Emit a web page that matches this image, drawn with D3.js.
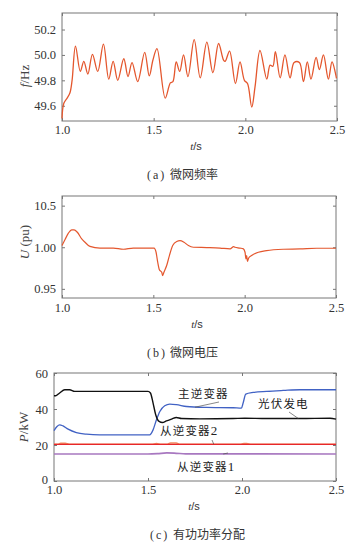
<!DOCTYPE html>
<html><head><meta charset="utf-8">
<script src="https://cdn.jsdelivr.net/npm/d3@7/dist/d3.min.js"></script>
<style>
html,body{margin:0;padding:0;background:#fff;}
svg{display:block;}
</style></head>
<body>
<svg id="chart" width="358" height="543"></svg>
<script>
// ---------- DATA ----------
const xTicks = [1.0, 1.5, 2.0, 2.5];
const xTickLabels = ["1.0", "1.5", "2.0", "2.5"];

// (a) frequency
const freqT = [1.0,1.01,1.028,1.043,1.055,1.0735,1.10,1.119,1.141,1.166,1.195,1.226,1.255,1.279,1.304,1.337,1.36,1.382,1.413,1.451,1.476,1.496,1.518,1.563,1.591,1.605,1.623,1.642,1.663,1.687,1.721,1.754,1.79,1.823,1.854,1.881,1.890,1.914,1.946,1.971,1.995,2.012,2.035,2.053,2.080,2.117,2.135,2.15,2.164,2.19,2.216,2.244,2.266,2.295,2.317,2.338,2.358,2.386,2.404,2.426,2.453,2.473,2.497];
const freqF = [49.50,49.62,49.66,49.70,49.80,50.07,49.87,49.95,49.85,50.005,49.87,50.085,49.81,49.95,49.80,49.97,49.83,49.94,49.79,50.02,49.835,49.96,50.05,49.66,49.78,49.79,49.945,49.87,50.0,49.83,50.12,49.82,50.10,49.86,50.09,49.96,49.95,50.03,49.775,49.945,49.80,49.775,49.59,49.75,50.035,49.81,49.92,49.91,50.025,49.82,50.0,49.82,49.94,49.94,49.79,49.945,49.81,49.98,49.885,50.0,49.81,49.945,49.815];
const freqTicks = [49.6, 49.8, 50.0, 50.2];
const freqTickLabels = ["49.6", "49.8", "50.0", "50.2"];

// (b) voltage
const voltT = [1.0,1.016,1.035,1.053,1.066,1.084,1.108,1.126,1.153,1.208,1.281,1.336,1.39,1.464,1.504,1.515,1.524,1.533,1.546,1.551,1.558,1.573,1.588,1.606,1.628,1.646,1.668,1.692,1.719,1.792,1.865,1.92,1.94,1.947,1.974,1.993,2.002,2.007,2.011,2.015,2.022,2.038,2.075,2.12,2.212,2.303,2.394,2.5];
const voltU = [1.002,1.009,1.017,1.021,1.021,1.018,1.010,1.006,1.001,0.999,0.999,0.9976,0.999,0.999,0.999,0.994,0.982,0.973,0.970,0.966,0.970,0.978,0.990,1.002,1.007,1.008,1.006,1.002,1.0,0.9996,0.999,0.998,1.0008,1.0,0.999,0.998,0.994,0.986,0.990,0.983,0.987,0.990,0.994,0.996,0.9976,0.998,0.9988,0.9988];
const voltTicks = [0.95, 1.00, 1.05];
const voltTickLabels = ["0.95", "1.00", "10.5"];

// (c) active power
const pvT = [1.0,1.01,1.03,1.057,1.083,1.11,1.172,1.332,1.5,1.513,1.527,1.541,1.559,1.577,1.598,1.625,1.651,1.678,1.776,1.953,2.015,2.13,2.308,2.468,2.5];
const pvP = [47.4,47.4,48.9,50.7,50.7,49.8,49.8,49.8,49.8,48.9,43.3,36.8,33.1,32.5,33.4,34.4,35.3,34.7,34.5,34.7,34.9,34.7,34.7,34.9,34.4];
const masterT = [1.0,1.016,1.03,1.048,1.075,1.119,1.172,1.243,1.421,1.509,1.527,1.545,1.563,1.589,1.616,1.651,1.705,1.811,1.953,1.997,2.006,2.02,2.06,2.131,2.219,2.308,2.397,2.5];
const masterP = [28.0,30.3,31.2,30.6,28.8,26.9,26.0,25.6,25.6,25.6,28.4,34.0,38.6,41.8,42.7,42.4,41.4,40.9,40.7,40.5,43.3,48.3,49.2,49.8,50.3,50.7,50.7,50.7];
const slave2T = [1.0,1.02,1.035,1.06,1.08,1.5,1.52,1.545,1.57,1.6,1.62,1.65,1.67,1.99,2.01,2.025,2.05,2.5];
const slave2P = [20.4,20.4,21.0,21.0,20.4,20.4,20.4,20.9,20.4,20.4,21.1,21.1,20.4,20.4,20.9,20.9,20.4,20.4];
const slave2RefT = [1.0, 2.5];
const slave2RefP = [20.4, 20.4];
const slave1T = [1.0,1.5,1.55,1.6,1.65,1.7,2.5];
const slave1P = [15.0,15.0,15.2,15.6,15.4,15.1,15.0];
const powTicks = [0, 20, 40, 60];
const powTickLabels = ["0", "20", "40", "60"];

const labelNames = ["主逆变器", "光伏发电", "从逆变器2", "从逆变器1"];

// ---------- DRAW ----------
const svg = d3.select("#chart");
const serif = "'Liberation Serif','Times New Roman',serif";
const cjk = "'Noto Sans CJK SC',sans-serif";

function panel(cfg) {
  const x = d3.scaleLinear().domain([1.0, 2.5]).range([cfg.left, cfg.right]);
  const y = d3.scaleLinear().domain(cfg.yDomain).range([cfg.bottom, cfg.top]);
  const g = svg.append("g");

  const ab = g.append("g").attr("transform", `translate(0,${cfg.bottom})`)
    .call(d3.axisBottom(x).tickValues(xTicks).tickFormat((d,i)=>xTickLabels[i]).tickSizeInner(-3).tickSizeOuter(0).tickPadding(cfg.xPad));
  const at = g.append("g").attr("transform", `translate(0,${cfg.top})`)
    .call(d3.axisTop(x).tickValues(xTicks).tickFormat("").tickSizeInner(-3).tickSizeOuter(0));
  const al = g.append("g").attr("transform", `translate(${cfg.left},0)`)
    .call(d3.axisLeft(y).tickValues(cfg.yTicks).tickFormat((d,i)=>cfg.yTickLabels[i]).tickSizeInner(-3).tickSizeOuter(0).tickPadding(cfg.yPad));
  const ar = g.append("g").attr("transform", `translate(${cfg.right},0)`)
    .call(d3.axisRight(y).tickValues(cfg.yTicks).tickFormat("").tickSizeInner(-3).tickSizeOuter(0));
  [ab, at, al, ar].forEach(a => {
    a.select(".domain").remove();
    a.selectAll(".tick line").attr("stroke", "#777").attr("stroke-width", 1);
    a.selectAll("text").attr("font-family", serif).attr("font-size", 12.5).attr("fill", "#333");
  });
  if (cfg.firstYLabelDy) {
    al.selectAll(".tick text").filter((d, i) => i === 0).attr("dy", cfg.firstYLabelDy);
  }

  g.append("rect").attr("x", cfg.left).attr("y", cfg.top)
    .attr("width", cfg.right - cfg.left).attr("height", cfg.bottom - cfg.top)
    .attr("fill", "none").attr("stroke", "#777").attr("stroke-width", 1);

  cfg.series.forEach(s => {
    const pts = s.t.map((t, i) => [t, s.v[i]]);
    g.append("path").datum(pts)
      .attr("fill", "none").attr("stroke", s.color).attr("stroke-width", s.width || 1.3)
      .attr("stroke-linejoin", "round")
      .attr("d", d3.line().x(d => x(d[0])).y(d => y(d[1])).curve(s.curve || d3.curveMonotoneX));
  });

  const tt = g.append("text").attr("x", cfg.tsX).attr("y", cfg.tsY)
    .attr("text-anchor", "middle").attr("font-family", serif).attr("font-size", 11).attr("fill", "#333");
  tt.append("tspan").attr("font-style", "italic").text("t");
  tt.append("tspan").attr("font-family", "'Liberation Sans',Arial,sans-serif").text("/s");

  const yt = g.append("text").attr("transform", `translate(${cfg.ytX},${cfg.ytY}) rotate(-90)`)
    .attr("text-anchor", "middle").attr("font-family", serif).attr("font-size", 13).attr("fill", "#444");
  yt.append("tspan").attr("font-style", "italic").text(cfg.ytItalic);
  yt.append("tspan").text(cfg.ytRest);

  const cap = g.append("text").attr("y", cfg.capY).attr("fill", "#333").attr("font-size", 12);
  cap.append("tspan").attr("x", cfg.capX).attr("font-family", serif).attr("letter-spacing", 2).text(cfg.capTag);
  cap.append("tspan").attr("x", cfg.capX + 23).attr("font-family", cjk).text(cfg.capText);

  return {g, x, y};
}

panel({
  left: 62, right: 337, top: 13, bottom: 121, yDomain: [49.48, 50.33],
  yTicks: freqTicks, yTickLabels: freqTickLabels, xPad: 4, yPad: 6,
  series: [{t: freqT, v: freqF, color: "#e4572e", width: 1.3, curve: d3.curveCatmullRom.alpha(0.5)}],
  tsX: 196, tsY: 150, ytX: 29, ytY: 76, ytItalic: "f", ytRest: "/Hz",
  capX: 147, capY: 178.5, capTag: "(a)", capText: "微网频率"
});

panel({
  left: 62, right: 336, top: 196, bottom: 298, yDomain: [0.939, 1.0616],
  yTicks: voltTicks, yTickLabels: voltTickLabels, xPad: 5, yPad: 6,
  series: [{t: voltT, v: voltU, color: "#e4572e", width: 1.2}],
  tsX: 197, tsY: 327.5, ytX: 29, ytY: 242, ytItalic: "U", ytRest: " (pu)",
  capX: 147, capY: 356.5, capTag: "(b)", capText: "微网电压"
});

const p3 = panel({
  left: 54, right: 336, top: 373, bottom: 481, yDomain: [0, 60],
  yTicks: powTicks, yTickLabels: powTickLabels, xPad: 4, yPad: 6, firstYLabelDy: "0.2em",
  series: [
    {t: slave1T, v: slave1P, color: "#a878c0", width: 1.7},
    {t: slave2T, v: slave2P, color: "#f08a60", width: 1.4},
    {t: slave2RefT, v: slave2RefP, color: "#e8262a", width: 1.3},
    {t: masterT, v: masterP, color: "#4162c4", width: 1.3},
    {t: pvT, v: pvP, color: "#111", width: 1.4}
  ],
  tsX: 194, tsY: 509.5, ytX: 28, ytY: 427, ytItalic: "P", ytRest: "/kW",
  capX: 150, capY: 538.5, capTag: "(c)", capText: "有功功率分配"
});

const labs = [
  {name: labelNames[0], lx: 178, ly: 397.5, from: [219, 402], to: [1.75, 41.0]},
  {name: labelNames[1], lx: 258, ly: 408, from: [289, 412], to: [2.3, 34.7]},
  {name: labelNames[2], lx: 160, ly: 435, from: [212, 440], to: [1.85, 20.4]},
  {name: labelNames[3], lx: 177, ly: 471, from: [228, 453], to: [1.9, 15.0]}
];
labs.forEach(l => {
  p3.g.append("line").attr("x1", l.from[0]).attr("y1", l.from[1])
    .attr("x2", p3.x(l.to[0])).attr("y2", p3.y(l.to[1]))
    .attr("stroke", "#555").attr("stroke-width", 0.7);
  const t = p3.g.append("text").attr("x", l.lx).attr("y", l.ly)
    .attr("font-size", 11.5).attr("fill", "#222");
  const m = l.name.match(/^(\D+)(\d*)$/);
  t.append("tspan").attr("font-family", cjk).attr("letter-spacing", 1.2).text(m[1]);
  if (m[2]) t.append("tspan").attr("font-family", serif).attr("font-size", 13).text(m[2]);
});
</script>
</body></html>
